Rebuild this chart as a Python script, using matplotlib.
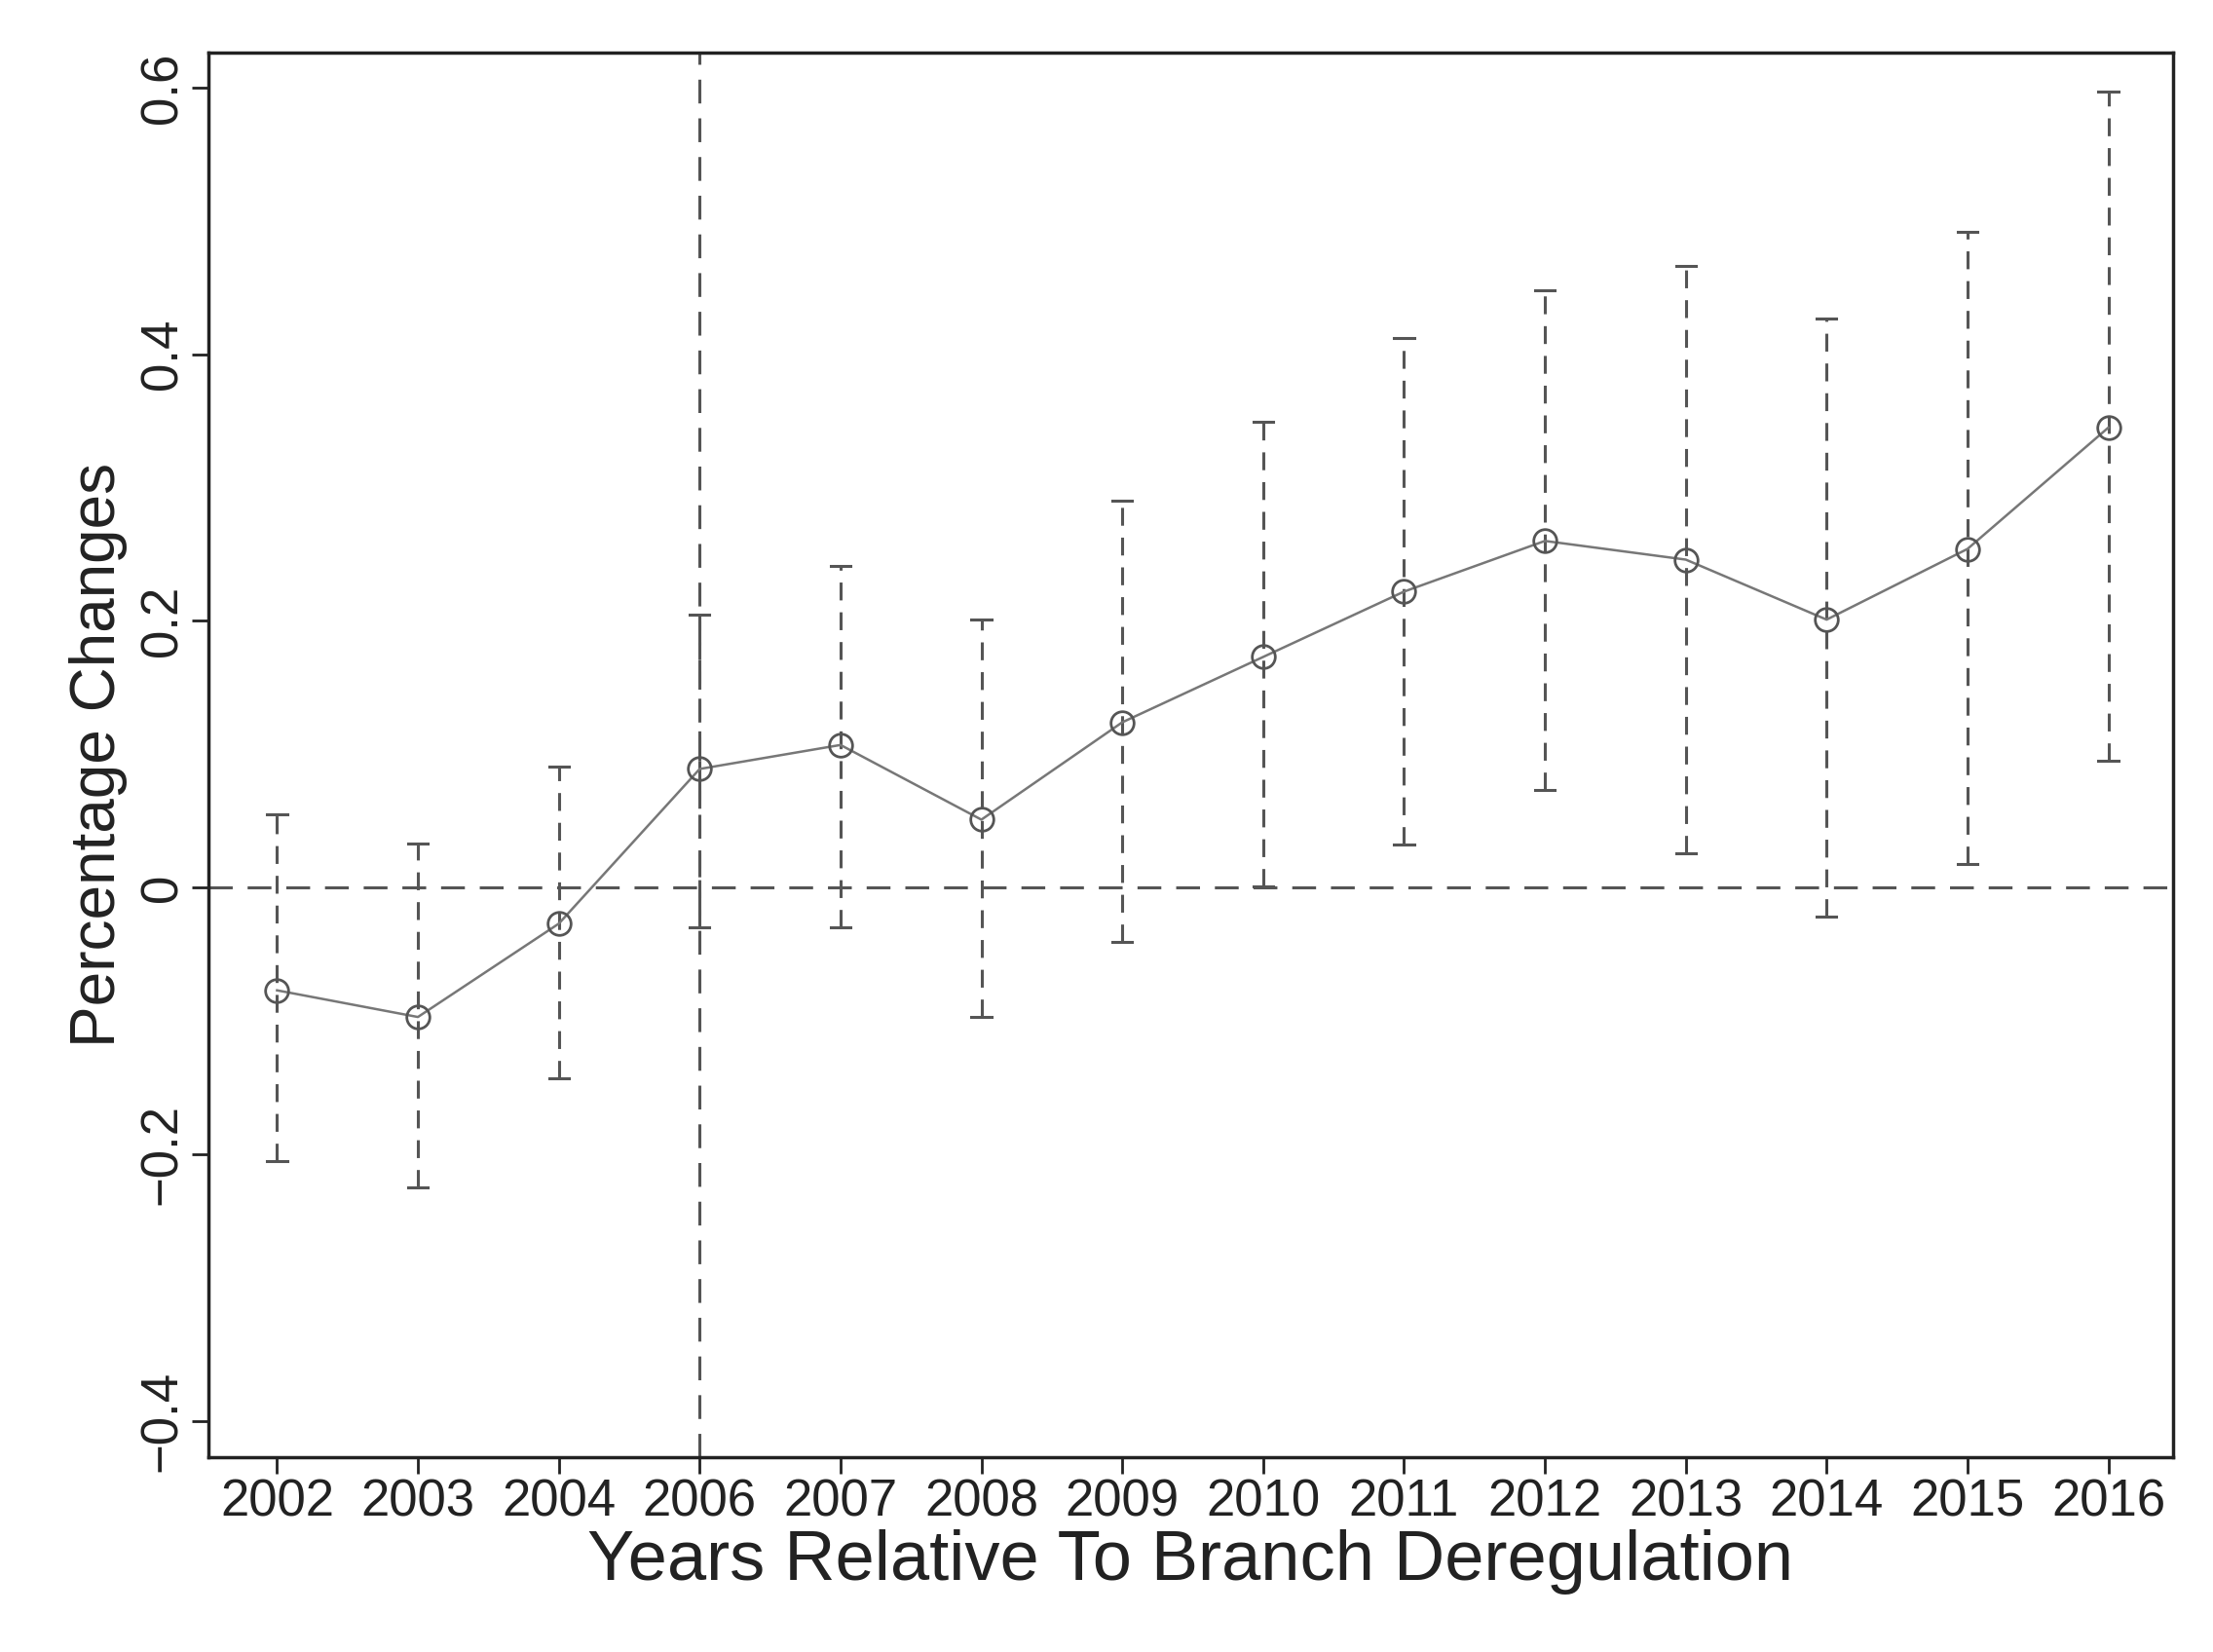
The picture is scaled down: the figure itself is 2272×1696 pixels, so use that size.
import matplotlib
matplotlib.use('Agg')
import matplotlib.pyplot as plt

years = ['2002', '2003', '2004', '2006', '2007', '2008', '2009',
         '2010', '2011', '2012', '2013', '2014', '2015', '2016']
estimate = [-0.077, -0.097, -0.027, 0.089, 0.107, 0.051, 0.124,
            0.173, 0.222, 0.260, 0.246, 0.201, 0.254, 0.345]
ci_low = [-0.205, -0.225, -0.143, -0.030, -0.030, -0.097, -0.041,
          0.001, 0.032, 0.073, 0.026, -0.022, 0.018, 0.095]
ci_high = [0.055, 0.033, 0.091, 0.205, 0.241, 0.201, 0.290,
           0.349, 0.412, 0.448, 0.466, 0.427, 0.492, 0.597]

plt.rcParams['font.family'] = ['Liberation Sans', 'DejaVu Sans']
fig = plt.figure(figsize=(22.72, 16.96), dpi=100)
ax = fig.add_axes([0.094, 0.118, 0.888, 0.85])

xs = list(range(len(years)))
grey = '#555555'
for x, lo, hi in zip(xs, ci_low, ci_high):
    ax.plot([x, x], [lo, hi], color=grey, lw=2.2, ls=(0, (6, 4)))
    ax.plot([x - 0.07, x + 0.07], [lo, lo], color=grey, lw=2.2)
    ax.plot([x - 0.07, x + 0.07], [hi, hi], color=grey, lw=2.2)
ax.plot(xs, estimate, color='#777777', lw=1.8, marker='o', ms=17,
        mfc='none', mec='#555555', mew=2)
ax.axhline(0, color=grey, lw=2.2, ls=(0, (8, 5)))
ax.axvline(3, color=grey, lw=2.2, ls=(0, (8, 5)))

ax.set_xlim(-0.49, 13.46)
ax.set_ylim(-0.427, 0.626)
ax.set_xticks(xs)
ax.set_xticklabels(years)
ax.set_yticks([-0.4, -0.2, 0, 0.2, 0.4, 0.6])
ax.set_yticklabels(['\u22120.4', '\u22120.2', '0', '0.2', '0.4', '0.6'],
                   rotation=90, va='center')
ax.tick_params(labelsize=38, colors='#222222', length=12, width=2)
for s in ax.spines.values():
    s.set_linewidth(2.5)
    s.set_color('#222222')
ax.set_xlabel('Years Relative To Branch Deregulation', fontsize=52,
              color='#222222', labelpad=2)
ax.set_ylabel('Percentage Changes', fontsize=46, color='#222222', labelpad=8)

fig.savefig('out.png', dpi=100, facecolor='white')
